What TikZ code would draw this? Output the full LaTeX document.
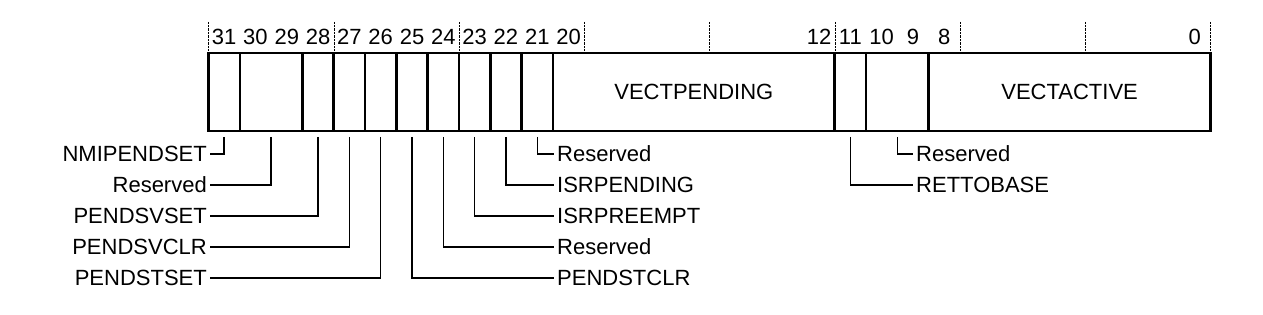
\documentclass[tikz,border=0pt]{standalone}
\usepackage{fontspec}
\setmainfont{Liberation Sans}
\usepackage{tikz}
\usetikzlibrary{positioning}

\begin{document}
\begin{tikzpicture}[x=1pt,y=-1pt,
        field/.style={draw,line width=2.6pt,minimum width=#1*31.3125pt,minimum height=78pt,
            inner sep=0pt,outer sep=0pt,font=\fontsize{22}{26}\selectfont},
        field/.default=1,
        bitnum/.style={inner sep=0pt,font=\fontsize{22}{26}\selectfont},
        lbl/.style={inner sep=3pt,text height=15.5pt,text depth=0pt,font=\fontsize{22}{26}\selectfont},
        leader/.style={line width=1.4pt}
        ]
            \useasboundingbox (0,0) rectangle (1263,315);

            %The register fields, bit 31 down to bit 0
            \node[field,anchor=north west] (f31) at (208.5,53) {};
            \node[field=2,right=0pt of f31] (f30) {};
            \node[field,right=0pt of f30] (f28) {};
            \node[field,right=0pt of f28] (f27) {};
            \node[field,right=0pt of f27] (f26) {};
            \node[field,right=0pt of f26] (f25) {};
            \node[field,right=0pt of f25] (f24) {};
            \node[field,right=0pt of f24] (f23) {};
            \node[field,right=0pt of f23] (f22) {};
            \node[field,right=0pt of f22] (f21) {};
            \node[field=9,right=0pt of f21] (f20) {VECTPENDING};
            \node[field,right=0pt of f20] (f11) {};
            \node[field=2,right=0pt of f11] (f10) {};
            \node[field=9,right=0pt of f10] (f8) {VECTACTIVE};

            %Bit numbers and the dotted marks every four bits
            \foreach \b in {31,30,...,20,12,11,10,9,8,0}
                \node[bitnum] (n\b) at ({208.5+(31.5-\b)*31.3125},37) {\b};
            \foreach \k in {0,...,8}
                \draw[densely dotted,thin] ({208.5+\k*125.25},22) -- ({208.5+\k*125.25},51);

            %Names on the left
            \node[lbl,anchor=east] (nmi) at (210,154) {NMIPENDSET};
            \node[lbl,anchor=east] (res30) at (210,185) {Reserved};
            \node[lbl,anchor=east] (svset) at (210,216) {PENDSVSET};
            \node[lbl,anchor=east] (svclr) at (210,247) {PENDSVCLR};
            \node[lbl,anchor=east] (stset) at (210,278) {PENDSTSET};

            %Names on the right
            \node[lbl,anchor=west] (res21) at (554,154) {Reserved};
            \node[lbl,anchor=west] (ispend) at (554,185) {ISRPENDING};
            \node[lbl,anchor=west] (ispre) at (554,216) {ISRPREEMPT};
            \node[lbl,anchor=west] (res24) at (554,247) {Reserved};
            \node[lbl,anchor=west] (stclr) at (554,278) {PENDSTCLR};
            \node[lbl,anchor=west] (res10) at (913,154) {Reserved};
            \node[lbl,anchor=west] (retto) at (913,185) {RETTOBASE};

            \draw[leader] ([yshift=-6pt]f31.south) |- (nmi.east);
            \draw[leader] ([yshift=-6pt]f30.south) |- (res30.east);
            \draw[leader] ([yshift=-6pt]f28.south) |- (svset.east);
            \draw[leader] ([yshift=-6pt]f27.south) |- (svclr.east);
            \draw[leader] ([yshift=-6pt]f26.south) |- (stset.east);
            \draw[leader] ([yshift=-6pt]f25.south) |- (stclr.west);
            \draw[leader] ([yshift=-6pt]f24.south) |- (res24.west);
            \draw[leader] ([yshift=-6pt]f23.south) |- (ispre.west);
            \draw[leader] ([yshift=-6pt]f22.south) |- (ispend.west);
            \draw[leader] ([yshift=-6pt]f21.south) |- (res21.west);
            \draw[leader] ([yshift=-6pt]f11.south) |- (retto.west);
            \draw[leader] ([yshift=-6pt]f10.south) |- (res10.west);
\end{tikzpicture}
\end{document}
